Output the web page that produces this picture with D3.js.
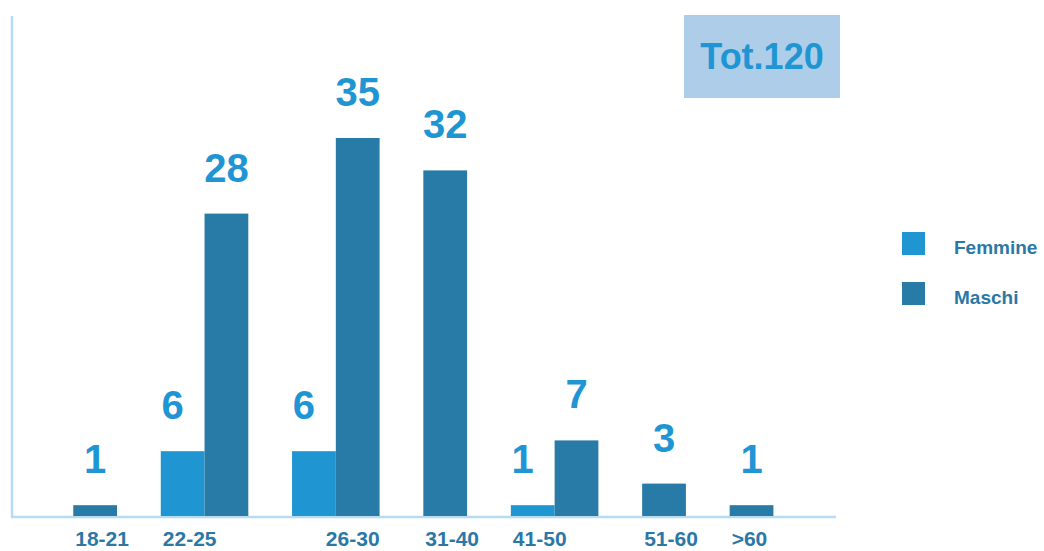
<!DOCTYPE html>
<html>
<head>
<meta charset="utf-8">
<script src="https://cdn.jsdelivr.net/npm/d3@7"></script>
<style>
  html, body { margin: 0; padding: 0; background: #fff; }
  svg { display: block; font-family: "Liberation Sans", Arial, Helvetica, sans-serif; }
</style>
</head>
<body>
<svg id="chart" width="1044" height="551"></svg>
<script>
// ---- data ----
const categories = ["18-21", "22-25", "26-30", "31-40", "41-50", "51-60", ">60"];
const seriesNames = ["Femmine", "Maschi"];
const femmine = [0, 6, 6, 0, 1, 0, 0];
const maschi  = [1, 28, 35, 32, 7, 3, 1];
const totalLabel = "Tot.120";

// ---- styling / layout config ----
const colors = { Femmine: "#1f95d2", Maschi: "#287aa7" };
const axisColor = "#b6dcf1";
const labelColor = "#2b78a6";
const valueColor = "#1f95d3";
const labelAnchor = ["start", "start", "end", "start", "start", "start", "start"];

const svg = d3.select("#chart");
const baseY = 516;

// Build slots: only non-zero bars occupy a slot, one empty slot between groups
const seriesVals = { Femmine: femmine, Maschi: maschi };
const bars = [];
const groups = [];
let slot = 0;
categories.forEach((c, i) => {
  const start = slot;
  seriesNames.forEach(s => {
    const v = seriesVals[s][i];
    if (v > 0) { bars.push({ cat: c, series: s, value: v, slot: slot }); slot++; }
  });
  groups.push({ cat: c, start: start, end: slot, idx: i });
  slot++; // gap
});

const x = d3.scaleLinear().domain([-1.4, 17.43]).range([12, 836]);
const bw = x(1) - x(0);
const y = d3.scaleLinear().domain([0, 35]).range([baseY, 138]);

// axes lines
svg.append("line").attr("x1", 12).attr("x2", 12).attr("y1", 16).attr("y2", baseY + 1)
  .attr("stroke", axisColor).attr("stroke-width", 2.5);
svg.append("line").attr("x1", 11).attr("x2", 836).attr("y1", baseY + 1).attr("y2", baseY + 1)
  .attr("stroke", axisColor).attr("stroke-width", 2.5);

// bars
svg.append("g").selectAll("rect").data(bars).join("rect")
  .attr("x", d => x(d.slot))
  .attr("width", bw)
  .attr("y", d => y(d.value))
  .attr("height", d => baseY - y(d.value))
  .attr("fill", d => colors[d.series]);

// value labels
svg.append("g").selectAll("text").data(bars).join("text")
  .attr("x", d => x(d.slot) + bw / 2 + (d.series === "Femmine" ? -10 : 0))
  .attr("y", d => y(d.value) - 32)
  .attr("text-anchor", "middle")
  .attr("font-size", 40)
  .attr("font-weight", "bold")
  .attr("fill", valueColor)
  .text(d => d.value);

// category labels
svg.append("g").selectAll("text").data(groups).join("text")
  .attr("x", d => labelAnchor[d.idx] === "end" ? x(d.end) : x(d.start) + 2)
  .attr("y", 546)
  .attr("text-anchor", d => labelAnchor[d.idx])
  .attr("font-size", 21)
  .attr("font-weight", "bold")
  .attr("fill", labelColor)
  .text(d => d.cat);

// total box
svg.append("rect").attr("x", 684).attr("y", 15).attr("width", 156).attr("height", 83)
  .attr("fill", "#aecde9");
svg.append("text").attr("x", 762).attr("y", 69).attr("text-anchor", "middle")
  .attr("font-size", 36).attr("font-weight", "bold").attr("fill", valueColor)
  .text(totalLabel);

// legend
const legend = svg.append("g").selectAll("g").data(seriesNames).join("g")
  .attr("transform", (d, i) => `translate(902, ${232 + i * 50})`);
legend.append("rect").attr("width", 23).attr("height", 23).attr("fill", d => colors[d]);
legend.append("text").attr("x", 52).attr("y", 22)
  .attr("font-size", 19).attr("font-weight", "bold").attr("fill", labelColor)
  .text(d => d);
</script>
</body>
</html>
